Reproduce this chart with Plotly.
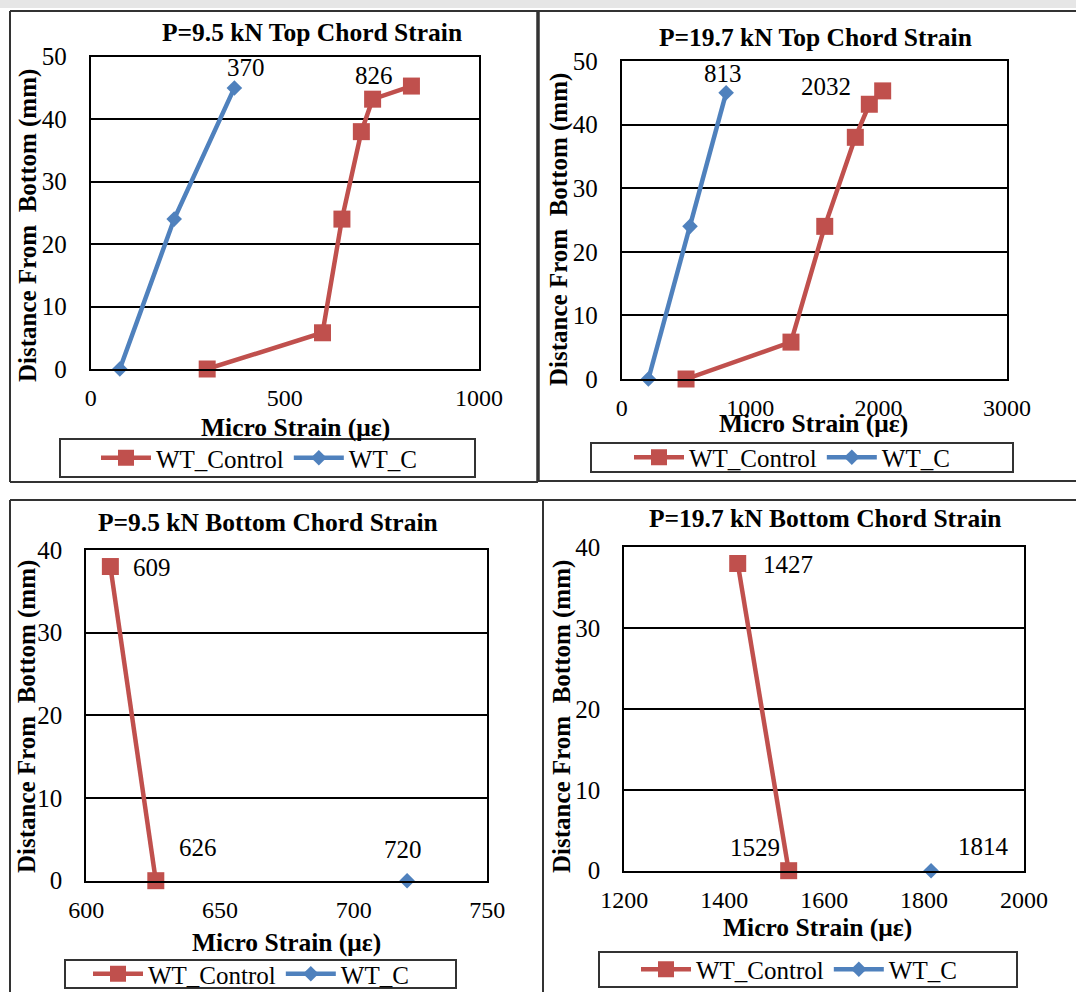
import plotly.graph_objects as go

W, H = 1076, 992
RED = "#C0504D"
BLUE = "#4F81BD"
FONT = "Liberation Serif"

# ---------------- data ----------------
titles = ["P=9.5 kN Top Chord Strain", "P=19.7 kN Top Chord Strain",
          "P=9.5 kN Bottom Chord Strain", "P=19.7 kN Bottom Chord Strain"]

top_heights_control = [0, 5.8, 24, 38, 43.2, 45.3]
top_heights_c = [0, 24, 45]

p1_control = [300, 597, 647, 697, 726, 826]
p1_c = [75, 215, 370]

p2_control = [501, 1318, 1581, 1819, 1928, 2032]
p2_c = [208, 532, 813]

bot_heights_control = [38, 0]
bot_heights_c = [0]

p3_control = [609, 626]
p3_c = [720]

p4_control = [1427, 1529]
p4_c = [1814]

x_ranges = [[0, 1000], [0, 3000], [600, 750], [1200, 2000]]
x_dticks = [500, 1000, 50, 200]
y_ranges = [[0, 50], [0, 50], [0, 40], [0, 40]]

# ---------------- layout geometry (pixels) ----------------
plot_px = [  # x0, x1, ytop, ybottom
    (90.7, 479, 56.7, 369),
    (621.7, 1007, 61, 379),
    (86.3, 487.3, 550, 880.7),
    (624.3, 1024, 547.3, 870.7),
]
title_px = [(312, 33), (815, 37), (268, 522), (825, 518)]
xtitle_px = [(295, 427), (813, 423), (286, 942), (817, 927)]
ytitle_px = [(28, 226), (559, 230), (27, 717), (562, 717)]
legend_px = [(259, 458), (792, 457.5), (251, 974), (799, 969.5)]
legend_box_px = [(60, 439, 475, 477), (591, 443, 1013, 472), (65, 960, 456, 988), (599, 952, 1017, 987)]


def px(x):
    return x / W


def py(y):
    return 1 - y / H


fig = go.Figure()

panels = [
    (p1_control, top_heights_control, p1_c, top_heights_c),
    (p2_control, top_heights_control, p2_c, top_heights_c),
    (p3_control, bot_heights_control, p3_c, bot_heights_c),
    (p4_control, bot_heights_control, p4_c, bot_heights_c),
]

for i, (xc, yc, xb, yb) in enumerate(panels):
    n = "" if i == 0 else str(i + 1)
    leg = "legend" if i == 0 else f"legend{i + 1}"
    fig.add_trace(go.Scatter(
        x=xc, y=yc, mode="lines+markers", name="WT_Control",
        line=dict(color=RED, width=4.5),
        marker=dict(symbol="square", size=17, color=RED),
        xaxis="x" + n, yaxis="y" + n, legend=leg, cliponaxis=False,
    ))
    fig.add_trace(go.Scatter(
        x=xb, y=yb, mode="lines+markers", name="WT_C",
        line=dict(color=BLUE, width=4.5),
        marker=dict(symbol="diamond", size=12, color=BLUE),
        xaxis="x" + n, yaxis="y" + n, legend=leg, cliponaxis=False,
    ))

layout = dict(
    width=W, height=H, margin=dict(l=0, r=0, t=0, b=0, pad=0, autoexpand=False),
    paper_bgcolor="white", plot_bgcolor="white",
    font=dict(family=FONT, size=24, color="black"),
    showlegend=True,
)

for i in range(4):
    n = "" if i == 0 else str(i + 1)
    x0, x1, yt, yb = plot_px[i]
    layout["xaxis" + n] = dict(
        domain=[px(x0), px(x1)], range=x_ranges[i], dtick=x_dticks[i],
        anchor="y" + n, showgrid=False, zeroline=False, automargin=False,
        showline=True, mirror=True, linecolor="black", linewidth=2,
        ticks="", ticklabelstandoff=6, tickfont=dict(size=24, family=FONT),
    )
    layout["yaxis" + n] = dict(
        domain=[py(yb), py(yt)], range=y_ranges[i], dtick=10,
        anchor="x" + n, showgrid=True, gridcolor="black", gridwidth=1.5,
        zeroline=False, showline=True, mirror=True, linecolor="black", linewidth=2,
        automargin=False,
        ticks="", ticklabelstandoff=17, tickfont=dict(size=25, family=FONT),
    )
    leg = "legend" if i == 0 else f"legend{i + 1}"
    lx, ly = legend_px[i]
    layout[leg] = dict(
        x=px(lx), y=py(ly), xanchor="center", yanchor="middle",
        orientation="h", bgcolor="rgba(0,0,0,0)", borderwidth=0,
        font=dict(size=25, family=FONT), itemwidth=50,
    )

fig.update_layout(**layout)

# ---------------- text annotations ----------------
for i in range(4):
    tx, ty = title_px[i]
    fig.add_annotation(x=px(tx), y=py(ty), xref="paper", yref="paper", showarrow=False,
                       xanchor="center", yanchor="middle",
                       text="<b>" + titles[i] + "</b>", font=dict(size=25.5, family=FONT))
    ax_, ay_ = xtitle_px[i]
    fig.add_annotation(x=px(ax_), y=py(ay_), xref="paper", yref="paper", showarrow=False,
                       xanchor="center", yanchor="middle",
                       text="<b>Micro Strain (με)</b>", font=dict(size=25.5, family=FONT))
    yx, yy = ytitle_px[i]
    fig.add_annotation(x=px(yx), y=py(yy), xref="paper", yref="paper", showarrow=False,
                       xanchor="center", yanchor="middle",
                       text="<b>Distance From  Bottom (mm)</b>", textangle=-90,
                       font=dict(size=25, family=FONT))

# data labels (positioned at the data point, shifted in pixels)
data_labels = [
    ("x", "y", p1_c[-1], top_heights_c[-1], str(p1_c[-1]), 12, 20),
    ("x", "y", p1_control[-1], top_heights_control[-1], str(p1_control[-1]), -37, 11),
    ("x2", "y2", p2_c[-1], top_heights_c[-1], str(p2_c[-1]), -3, 19),
    ("x2", "y2", p2_control[-1], top_heights_control[-1], str(p2_control[-1]), -57, 4),
    ("x3", "y3", p3_control[0], bot_heights_control[0], str(p3_control[0]), 42, -1),
    ("x3", "y3", p3_control[1], bot_heights_control[1], str(p3_control[1]), 42, 33),
    ("x3", "y3", p3_c[0], bot_heights_c[0], str(p3_c[0]), -4, 31),
    ("x4", "y4", p4_control[0], bot_heights_control[0], str(p4_control[0]), 50, -1),
    ("x4", "y4", p4_control[1], bot_heights_control[1], str(p4_control[1]), -34, 23),
    ("x4", "y4", p4_c[0], bot_heights_c[0], str(p4_c[0]), 52, 24),
]
for xr, yr, x, y, t, dx, dy in data_labels:
    fig.add_annotation(x=x, y=y, xref=xr, yref=yr, text=t, showarrow=False,
                       xanchor="center", yanchor="middle",
                       xshift=dx, yshift=dy, font=dict(size=25, family=FONT))

# ---------------- frames ----------------
shapes = []
shapes.append(dict(type="rect", xref="paper", yref="paper", x0=0, x1=1, y0=py(0), y1=py(8),
                   fillcolor="#e6e6e6", line=dict(width=0), layer="below"))
frame_lines = [
    (10, 11, 1076, 11, 2),     # top line
    (10, 11, 10, 482, 2),      # TL left
    (10, 482, 538, 482, 2),    # TL bottom
    (538, 11, 538, 482, 3.5),  # divider top
    (538, 481, 1076, 481, 2),  # TR bottom
    (10, 500, 1076, 500, 2),   # bottom panels top
    (10, 500, 10, 992, 2),     # BL left
    (543, 500, 543, 992, 2),   # divider bottom
]
for x0, y0, x1, y1, w in frame_lines:
    shapes.append(dict(type="line", xref="paper", yref="paper", x0=px(x0), y0=py(y0),
                       x1=px(x1), y1=py(y1), line=dict(color="#333333", width=w)))
for x0, y0, x1, y1 in legend_box_px:
    shapes.append(dict(type="rect", xref="paper", yref="paper", x0=px(x0), y0=py(y0),
                       x1=px(x1), y1=py(y1), line=dict(color="#333333", width=2),
                       fillcolor="rgba(0,0,0,0)"))
fig.update_layout(shapes=shapes)

fig.write_html("out.html")
